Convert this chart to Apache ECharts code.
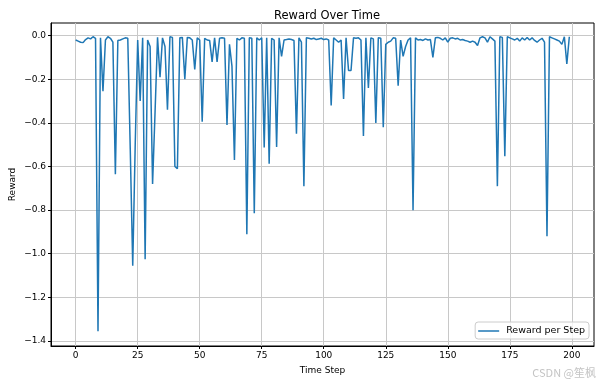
<!DOCTYPE html>
<html>
<head>
<meta charset="utf-8">
<script src="https://cdn.jsdelivr.net/npm/echarts@6/dist/echarts.min.js"></script>
<style>
html,body{margin:0;padding:0;background:#fff;}
#chart{width:600px;height:382px;}
</style>
</head>
<body>
<div id="chart"></div>
<script>
// Reward per step (index = time step)
const rewards = [
 -0.020,-0.025,-0.030,-0.032,-0.018,-0.010,-0.015,-0.005,-0.012,-1.355,
 -0.010,-0.255,-0.020,-0.005,-0.012,-0.030,-0.636,-0.022,-0.020,-0.015,
 -0.010,-0.012,-0.520,-1.055,-0.500,-0.020,-0.300,-0.010,-1.025,-0.020,
 -0.050,-0.680,-0.350,-0.008,-0.190,-0.010,-0.050,-0.340,-0.005,-0.008,
 -0.600,-0.610,-0.010,-0.008,-0.200,-0.008,-0.010,-0.020,-0.155,-0.010,
 -0.020,-0.395,-0.012,-0.020,-0.022,-0.120,-0.010,-0.120,-0.012,-0.010,
 -0.012,-0.410,-0.040,-0.140,-0.570,-0.012,-0.020,-0.010,-0.012,-0.910,
 -0.010,-0.012,-0.814,-0.010,-0.020,-0.010,-0.513,-0.010,-0.587,-0.012,
 -0.020,-0.510,-0.010,-0.095,-0.020,-0.018,-0.015,-0.018,-0.022,-0.450,
 -0.010,-0.030,-0.690,-0.010,-0.012,-0.015,-0.012,-0.018,-0.015,-0.012,
 -0.018,-0.015,-0.020,-0.320,-0.010,-0.020,-0.030,-0.020,-0.290,-0.010,
 -0.160,-0.160,-0.010,-0.012,-0.010,-0.020,-0.460,-0.010,-0.240,-0.010,
 -0.015,-0.400,-0.010,-0.012,-0.420,-0.040,-0.030,-0.025,-0.010,-0.012,
 -0.230,-0.020,-0.095,-0.050,-0.020,-0.010,-0.800,-0.010,-0.020,-0.018,
 -0.022,-0.015,-0.020,-0.018,-0.100,-0.010,-0.008,-0.012,-0.020,-0.010,
 -0.030,-0.012,-0.010,-0.015,-0.012,-0.020,-0.018,-0.022,-0.025,-0.030,
 -0.025,-0.030,-0.045,-0.010,-0.005,-0.010,-0.030,-0.005,-0.015,-0.025,
 -0.690,-0.005,-0.008,-0.553,-0.005,-0.010,-0.015,-0.020,-0.012,-0.025,
 -0.010,-0.020,-0.008,-0.020,-0.010,-0.022,-0.030,-0.020,-0.012,-0.030,
 -0.920,-0.005,-0.010,-0.015,-0.020,-0.025,-0.040,-0.005,-0.130,-0.005
];
const xTicks = [0, 25, 50, 75, 100, 125, 150, 175, 200];
const yTicks = [0.0, -0.2, -0.4, -0.6, -0.8, -1.0, -1.2, -1.4];

const FONT = 'DejaVu Sans';
const chart = echarts.init(document.getElementById('chart'), null, {renderer: 'canvas'});
const fmtY = v => {
  const s = Math.abs(v).toFixed(1);
  return (v < -1e-9 ? '\u2212' : '') + s;
};
chart.setOption({
  animation: false,
  backgroundColor: '#ffffff',
  textStyle: {fontFamily: FONT},
  title: {
    text: 'Reward Over Time',
    left: 322, top: 5, textAlign: 'center',
    textStyle: {fontFamily: FONT, fontSize: 11.5, fontWeight: 'normal', color: '#000'}
  },
  grid: {left: 51, right: 6, top: 23, bottom: 36, containLabel: false, outerBoundsMode: 'none',
         show: true, borderColor: '#000', borderWidth: 1, backgroundColor: '#fff'},
  legend: {
    data: [{name: 'Reward per Step', icon: 'rect'}],
    right: 11, bottom: 43,
    itemWidth: 21, itemHeight: 1.5, itemGap: 5,
    padding: [4, 4, 3, 3],
    backgroundColor: 'rgba(255,255,255,0.8)',
    borderColor: '#cccccc', borderWidth: 1, borderRadius: 3,
    textStyle: {fontFamily: FONT, fontSize: 9.5, color: '#000', padding: [0, 0, 0, 2]}
  },
  xAxis: {
    type: 'value', min: -9.95, max: 208.95,
    name: 'Time Step', nameLocation: 'middle', nameGap: 20, nameMoveOverlap: false,
    nameTextStyle: {fontFamily: FONT, fontSize: 9, color: '#000'},
    axisLine: {show: true, onZero: false, lineStyle: {color: '#000', width: 1}},
    axisTick: {show: true, inside: false, length: 3, lineStyle: {color: '#000', width: 1}, customValues: xTicks},
    axisLabel: {show: true, margin: 5, fontFamily: FONT, fontSize: 9, color: '#000', customValues: xTicks},
    splitLine: {show: true, lineStyle: {color: '#c8c8c8', width: 1}}
  },
  yAxis: {
    type: 'value', min: -1.423, max: 0.058,
    name: 'Reward', nameLocation: 'middle', nameGap: 34, nameRotate: 90, nameMoveOverlap: false,
    nameTextStyle: {fontFamily: FONT, fontSize: 9, color: '#000'},
    axisLine: {show: true, onZero: false, lineStyle: {color: '#000', width: 1}},
    axisTick: {show: true, inside: false, length: 3, lineStyle: {color: '#000', width: 1}, customValues: yTicks},
    axisLabel: {show: true, margin: 5, fontFamily: FONT, fontSize: 9, color: '#000', formatter: fmtY, customValues: yTicks},
    splitLine: {show: true, lineStyle: {color: '#c8c8c8', width: 1}}
  },
  graphic: [{
    type: 'text', right: 4, bottom: 4,
    style: {text: 'CSDN @笙枫', fontFamily: 'Noto Sans CJK SC', fontSize: 11, fill: '#c4c4c4'}
  }],
  series: [{
    name: 'Reward per Step',
    type: 'line',
    data: rewards.map((v, i) => [i, v]),
    showSymbol: false,
    symbol: 'none',
    lineStyle: {color: '#1f77b4', width: 1.5},
    itemStyle: {color: '#1f77b4'}
  }]
});
</script>
</body>
</html>
